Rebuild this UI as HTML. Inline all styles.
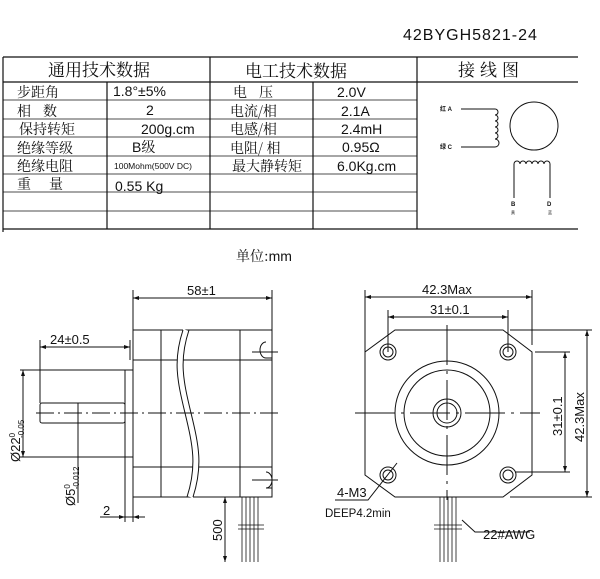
<!DOCTYPE html>
<html><head><meta charset="utf-8"><style>
body{margin:0;background:#fff;width:600px;height:579px;overflow:hidden}
svg{display:block}
text{font-family:"Liberation Sans","Noto Sans CJK SC",sans-serif;fill:#111}
.cj{font-family:"Noto Serif CJK SC","Noto Sans CJK SC",serif}
</style></head><body>
<svg width="600" height="579" viewBox="0 0 600 579" stroke="#111" fill="none" stroke-width="1">
<text x="403" y="40" font-size="16" stroke="none" letter-spacing="1">42BYGH5821-24</text>
<g stroke-width="1.2">
<line x1="3" y1="57" x2="578" y2="57"/>
<line x1="3" y1="82" x2="578" y2="82"/>
<line x1="3" y1="229" x2="578" y2="229"/>
<line x1="3" y1="57" x2="3" y2="232"/>
<line x1="107" y1="82" x2="107" y2="229"/>
<line x1="210" y1="57" x2="210" y2="229"/>
<line x1="313" y1="82" x2="313" y2="229"/>
<line x1="417" y1="57" x2="417" y2="229"/>
</g>
<g stroke-width="0.8">
<line x1="3" y1="100" x2="417" y2="100"/><line x1="3" y1="119" x2="417" y2="119"/>
<line x1="3" y1="137" x2="417" y2="137"/><line x1="3" y1="156" x2="417" y2="156"/>
<line x1="3" y1="174" x2="417" y2="174"/><line x1="3" y1="192" x2="417" y2="192"/>
<line x1="3" y1="211" x2="417" y2="211"/>
</g>
<g stroke="none" font-size="14">
<text class="cj" x="48" y="76" font-size="17">通用技术数据</text>
<text class="cj" x="245" y="77" font-size="17">电工技术数据</text>
<text class="cj" x="458" y="76" font-size="17" letter-spacing="5">接线图</text>
<text class="cj" x="17" y="97">步距角</text>
<text class="cj" x="17" y="116" letter-spacing="12">相数</text>
<text class="cj" x="19" y="134">保持转矩</text>
<text class="cj" x="17" y="153">绝缘等级</text>
<text class="cj" x="17" y="171">绝缘电阻</text>
<text class="cj" x="17" y="189" letter-spacing="18">重量</text>
<text x="113" y="96">1.8°±5%</text>
<text x="146" y="115">2</text>
<text x="141" y="134">200g.cm</text>
<text x="132" y="152">B<tspan class="cj">级</tspan></text>
<text x="114" y="169" font-size="8.5">100Mohm(500V DC)</text>
<text x="115" y="191">0.55 Kg</text>
<text class="cj" x="233" y="97" letter-spacing="12">电压</text>
<text class="cj" x="230" y="116">电流/相</text>
<text class="cj" x="230" y="134">电感/相</text>
<text class="cj" x="230" y="153">电阻/ 相</text>
<text class="cj" x="232" y="171">最大静转矩</text>
<text x="337" y="97">2.0V</text>
<text x="341" y="116">2.1A</text>
<text x="341" y="134">2.4mH</text>
<text x="342" y="152">0.95Ω</text>
<text x="337" y="171">6.0Kg.cm</text>
</g>
<g stroke-width="1">
<polyline points="461,109 495,109"/><polyline points="461,147 495,147"/>
<path d="M495,109 a3,3 0 0 1 0,6 a3,3 0 0 1 0,6 a3,3 0 0 1 0,6 a3,3 0 0 1 0,6 a3,3 0 0 1 0,6 a3,3 0 0 1 0,8"/>
<circle cx="534" cy="126" r="24"/>
<path d="M514,198 V164 a3,3 0 0 1 6,0 a3,3 0 0 1 6,0 a3,3 0 0 1 6,0 a3,3 0 0 1 6,0 a3,3 0 0 1 6,0 a3,3 0 0 1 6,0 V198"/>
</g>
<g stroke="none" font-size="6" font-weight="bold">
<text x="440" y="111">红 A</text><text x="440" y="149">绿 C</text>
<text x="511" y="206">B</text><text x="547" y="206">D</text>
<text x="511" y="214" font-size="4" font-weight="normal">黄</text><text x="548" y="214" font-size="4" font-weight="normal">蓝</text>
</g>
<text x="236" y="261" font-size="14" stroke="none"><tspan class="cj">单位:</tspan>mm</text>
<g stroke-width="1">
<rect x="133" y="330" width="139" height="167"/>
<line x1="161" y1="330" x2="161" y2="497"/><line x1="240" y1="330" x2="240" y2="497"/>
<line x1="133" y1="360" x2="272" y2="360"/><line x1="133" y1="467" x2="272" y2="467"/>
<path d="M186,330 C176,360 180,380 188,413 C196,446 200,466 190,497" stroke="#fff" stroke-width="6"/>
<path d="M183,330 C173,360 177,380 185,413 C193,446 197,466 187,497"/>
<path d="M189,330 C179,360 183,380 191,413 C199,446 203,466 193,497"/>
<path d="M266,342 a6,8 0 0 0 0,16 h6 M266,472 a6,8 0 0 1 0,16 h6"/>
<line x1="252" y1="352" x2="278" y2="352"/><line x1="252" y1="480" x2="278" y2="480"/>
<line x1="125" y1="370" x2="125" y2="522"/><line x1="125" y1="370" x2="133" y2="370"/><line x1="125" y1="457" x2="133" y2="457"/>
<rect x="40" y="403" width="85" height="20" rx="2"/>
<line x1="36" y1="413" x2="278" y2="413" stroke-dasharray="18,4,2,4"/>
<line x1="20" y1="370" x2="125" y2="370"/><line x1="20" y1="457" x2="125" y2="457"/>
<line x1="23" y1="370" x2="23" y2="457"/>
<line x1="133" y1="290" x2="133" y2="330"/><line x1="272" y1="290" x2="272" y2="330"/>
<line x1="133" y1="298" x2="272" y2="298"/>
<line x1="40" y1="340" x2="40" y2="403"/><line x1="40" y1="347" x2="130" y2="347"/><line x1="130" y1="340" x2="130" y2="360"/>
<line x1="78" y1="403" x2="78" y2="503"/>
<line x1="133" y1="497" x2="133" y2="522"/>
<line x1="100" y1="517" x2="145" y2="517"/>
<line x1="225" y1="497" x2="225" y2="562"/><line x1="220" y1="497" x2="240" y2="497"/>
<g stroke-width="0.8"><line x1="242" y1="497" x2="242" y2="562"/><line x1="246" y1="497" x2="246" y2="562"/><line x1="250" y1="497" x2="250" y2="562"/><line x1="254" y1="497" x2="254" y2="562"/><line x1="258" y1="497" x2="258" y2="562"/>
<line x1="238" y1="525" x2="264" y2="525"/><line x1="238" y1="529" x2="264" y2="529"/></g>
</g>
<g stroke="none" fill="#111">
<path d="M133,298 l6,-2 v4z M272,298 l-6,-2 v4z M40,347 l6,-2 v4z M130,347 l-6,-2 v4z M23,370 l-2,6 h4z M23,457 l-2,-6 h4z M125,517 l-6,-2 v4z M133,517 l6,-2 v4z M225,497 l-2,6 h4z M225,562 l-2,-6 h4z"/>
</g>
<g stroke="none" font-size="13">
<text x="187" y="295">58±1</text>
<text x="50" y="344">24±0.5</text>
<text x="103" y="515">2</text>
<text transform="translate(20,462) rotate(-90)">Ø22<tspan font-size="8" dy="-5">0</tspan><tspan font-size="8" dx="-5" dy="9">-0.05</tspan></text>
<text transform="translate(75,506) rotate(-90)">Ø5<tspan font-size="8" dy="-5">0</tspan><tspan font-size="8" dx="-5" dy="9">-0.012</tspan></text>
<text transform="translate(222,541) rotate(-90)">500</text>
</g>
<g stroke-width="1">
<polygon points="395,330 503,330 532,352 532,475 503,497 395,497 365,475 365,352"/>
<circle cx="447" cy="413" r="52"/><circle cx="447" cy="413" r="43"/>
<circle cx="447" cy="413" r="14"/><circle cx="447" cy="413" r="10"/>
<circle cx="388" cy="352" r="8"/><circle cx="388" cy="352" r="5"/>
<circle cx="508" cy="352" r="8"/><circle cx="508" cy="352" r="5"/>
<circle cx="388" cy="475" r="8"/><circle cx="388" cy="475" r="5"/>
<circle cx="508" cy="475" r="8"/><circle cx="508" cy="475" r="5"/>
<line x1="355" y1="413" x2="540" y2="413" stroke-dasharray="40,6,3,6"/>
<line x1="447" y1="325" x2="447" y2="500" stroke-dasharray="40,6,3,6"/>
<line x1="365" y1="290" x2="365" y2="352"/><line x1="532" y1="290" x2="532" y2="345"/>
<line x1="365" y1="297" x2="532" y2="297"/>
<line x1="388" y1="310" x2="388" y2="352"/><line x1="508" y1="310" x2="508" y2="352"/>
<line x1="388" y1="317" x2="508" y2="317"/>
<line x1="535" y1="352" x2="570" y2="352"/><line x1="515" y1="472" x2="570" y2="472"/>
<line x1="565" y1="352" x2="565" y2="472"/>
<line x1="510" y1="330" x2="592" y2="330"/><line x1="510" y1="497" x2="592" y2="497"/>
<line x1="587" y1="330" x2="587" y2="497"/>
<polyline points="397,463 368,500 335,500"/>
<polyline points="462,520 475,532 530,532"/>
<g stroke-width="0.8"><line x1="440" y1="497" x2="440" y2="562"/><line x1="444" y1="497" x2="444" y2="562"/><line x1="448" y1="497" x2="448" y2="562"/><line x1="452" y1="497" x2="452" y2="562"/><line x1="456" y1="497" x2="456" y2="562"/>
<line x1="434" y1="525" x2="462" y2="525"/><line x1="434" y1="529" x2="462" y2="529"/></g>
</g>
<g stroke="none" fill="#111">
<path d="M365,297 l6,-2 v4z M532,297 l-6,-2 v4z M388,317 l6,-2 v4z M508,317 l-6,-2 v4z M565,352 l-2,6 h4z M565,472 l-2,-6 h4z M587,330 l-2,6 h4z M587,497 l-2,-6 h4z"/>
</g>
<g stroke="none" font-size="13">
<text x="422" y="294">42.3Max</text>
<text x="430" y="314">31±0.1</text>
<text transform="translate(562,436) rotate(-90)">31±0.1</text>
<text transform="translate(584,442) rotate(-90)">42.3Max</text>
<text x="337" y="497">4-M3</text>
<text x="325" y="517" font-size="11.5">DEEP4.2min</text>
<text x="483" y="539">22#AWG</text>
</g>
</svg>
</body></html>
